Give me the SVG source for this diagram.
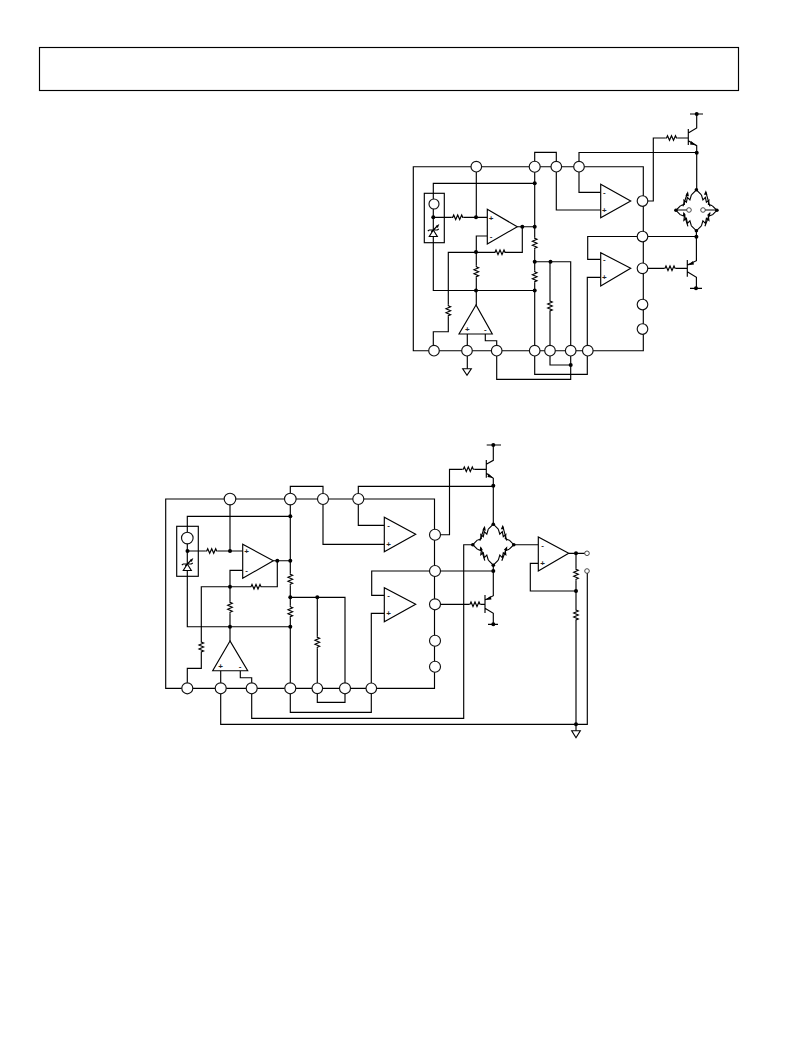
<svg xmlns="http://www.w3.org/2000/svg" xmlns:xlink="http://www.w3.org/1999/xlink" width="802" height="1038" viewBox="0 0 802 1038">
<style>
.w{fill:none;stroke:#000;stroke-width:1.15}
.b{fill:#fff;stroke:#000;stroke-width:1.15}
.pin{fill:#fff;stroke:#111;stroke-width:1.15}
.sp{fill:#fff;stroke:#333;stroke-width:.9}
.d{fill:#000;stroke:none}
text{font-family:"Liberation Sans",Arial,sans-serif;font-size:8px;font-weight:bold;fill:#222;text-anchor:middle}
</style>
<defs>
<g id="rh"><rect x="-6" y="-3" width="12" height="6" fill="#fff"/><path class="w" d="M-6 0H-5L-4 -2.300L-2 2.300L0 -2.300L2 2.300L4 -2.300L5 0H6"/></g>
<g id="rv"><use xlink:href="#rh" transform="rotate(90)"/></g>
<g id="bridge">
<path class="w" d="M0 -20.500L-5 -15.500M-16 -4.500L-20.500 0L-16 4.500M-5 15.500L0 20.500L5 15.500M16 4.500L20.500 0L16 -4.500M5 -15.500L0 -20.500"/>
<path class="w" d="M-5 -15.500L-6.500 -10.500L-9 -13L-10 -8L-12.500 -10L-12 -6L-16 -4.500"/>
<path class="w" d="M5 -15.500L6.500 -10.500L9 -13L10 -8L12.500 -10L12 -6L16 -4.500"/>
<path class="w" d="M-16 4.500L-12 6L-12.500 10L-10 8L-9 13L-6.500 10.500L-5 15.500"/>
<path class="w" d="M16 4.500L12 6L12.500 10L10 8L9 13L6.500 10.500L5 15.500"/>
<path class="w" d="M-13.500 -4L-9 -17M-8.500 16L-12.500 3M8.500 16L13.500 3M13.500 -4L9.500 -18"/>
<path class="d" d="M-8.500 -19L-11 -14.500L-7.500 -14ZM9.500 -20L7.500 -15.500L11 -15.500ZM-13 1.500L-13.500 6L-10.500 5ZM14 1.500L10.500 5L13.500 6Z"/>
<circle class="d" cx="0" cy="-20.500" r="1.800"/><circle class="d" cx="-20.500" cy="0" r="1.800"/><circle class="d" cx="20.500" cy="0" r="1.800"/><circle class="d" cx="0" cy="20.500" r="1.800"/>
</g>
<g id="zener"><path class="b" d="M-4 4.500H4L0 -2Z"/><path class="w" d="M-5.500 -1L-4 -2H4L5.500 -3M-2 0L4 -6"/><path class="d" d="M6 -8L2.500 -6L4.500 -4Z"/></g>
<g id="dot"><circle class="d" r="2"/></g>
</defs>
<rect width="802" height="1038" fill="#fff"/>
<rect class="w" x="39.500" y="47.500" width="699" height="43"/>

<g id="connectors">
<path class="w" d="M413.300 166.700H643.300V350.700H413.300ZM534.700 166.700V152.300H556.300V166.700M579 166.700V152.500H696.700M556.300 166.700V210H600.700M579 166.700V192.300H600.700"/>
<path class="w" d="M642.300 201H653.300V138H688.300M688.300 129V145M688.300 133L696.700 128V114M690 114H703M688.300 140.700L696.700 145.700V190"/>
<path class="w" d="M534.700 166.700V350.700M534.700 183.300H433.300V290.500H534.700M433.300 217.300H487.300M476.300 166.700V217.300M517.300 226.700H534.700M522.300 226.700V252.300H448.300V331.700H433.300V350.700M487.300 236H476.300V305"/>
<path class="w" d="M534.700 261.700H570.700V379.300H496.700V350.700M550 261.700V365H570.700M534.700 350.700V374.300H587.300V350.700M587.300 350.700V277.300H600.700M600.700 259.300H587.700V236.500H696.400M696.400 231V260.700L687.300 265M687.300 260V276.700M687.300 271.700L696.400 277.300V288.300M690 288.300H702M642.300 268.300H687.300"/>
<path class="w" d="M467.300 334V368.700M485.300 334V340.700H496.700V350.700"/>
<path class="w" d="M675.700 210H689M716.700 210H703"/>
<path class="w" d="M165.700 499H434.500V688.300H165.700ZM290.300 499V486.300H323V499M358.300 499V486.300H493.300M323 499V544.300H384.300M358.300 499V525.300H384.300"/>
<path class="w" d="M435 534.700H449.500V469.300H486.300M486.300 460V477.700M486.300 464.300L493.300 460.300V445M486.700 445H501M486.300 473.300L493.300 478.300V524"/>
<path class="w" d="M290.300 499V688.300M290.300 516.300H187.300V626.700H290.300M187.300 551H242.700M230 499V551M273.300 560.700H290.300M277.300 560.700V586.700H201.300V668.300H187.300V688.300M242.700 570.300H230V641"/>
<path class="w" d="M290.300 597.300H345V688.300M317.300 597.300V688.300V702.300H345V688.300M290.300 688.300V712.300H371.300V688.300M371.300 688.300V613.300H384.300M384.300 595.300H371.700V571H493.300M493.300 566V595.700L485 600M485 595V613M485 608.300L493.300 613.300V624.300M488 624.300H498M435 604.300H485"/>
<path class="w" d="M220.700 670.700V724.300H587.300V571M240.300 670.700V677.700H251.700V718.300H463.700V544.700H473M514.300 544.700H538.300M568.700 553.300H587M576 553.300V724.300M538.300 563.300H530.300V591H576M576 724.300V730.700"/>
<path class="d" d="M696 145.300L691 141L690 144.500ZM688 265.200L693 261L694 264.500ZM493 478L488.500 473.500L487.500 477ZM485.500 600L490.500 596L491.500 599.500Z"/>
</g>

<g id="resistors">
<use xlink:href="#rh" x="671.500" y="138"/><use xlink:href="#rh" x="457.700" y="217.300"/><use xlink:href="#rh" x="500" y="252.300"/><use xlink:href="#rh" x="670" y="268.300"/>
<use xlink:href="#rv" x="534.700" y="243.300"/><use xlink:href="#rv" x="534.700" y="276.700"/><use xlink:href="#rv" x="476.300" y="271.700"/><use xlink:href="#rv" x="448.300" y="310.700"/><use xlink:href="#rv" x="550" y="306"/>
<use xlink:href="#rh" x="468.300" y="469.300"/><use xlink:href="#rh" x="211.700" y="551"/><use xlink:href="#rh" x="256" y="586.700"/><use xlink:href="#rh" x="475" y="604.300"/>
<use xlink:href="#rv" x="290.300" y="579.300"/><use xlink:href="#rv" x="290.300" y="611.700"/><use xlink:href="#rv" x="230" y="607.300"/><use xlink:href="#rv" x="201.300" y="647"/><use xlink:href="#rv" x="317.300" y="642.300"/><use xlink:href="#rv" x="576" y="574.300"/><use xlink:href="#rv" x="576" y="615"/>
</g>

<g id="u-ref"><rect class="w" x="424.300" y="193.300" width="20" height="49.400"/><circle class="pin" cx="434" cy="204" r="5"/><use xlink:href="#zener" x="433.300" y="232"/></g>
<g id="u-amp1"><path class="b" d="M487.300 209.300V244L517.300 226.700Z"/><text x="491" y="220.500">+</text><text x="491" y="239">-</text></g>
<g id="u-amp2"><path class="b" d="M600.700 184.300V217.700L630.700 201Z"/><text x="604.300" y="195">-</text><text x="604.300" y="213">+</text></g>
<g id="u-amp3"><path class="b" d="M600.700 252.700V286L630.700 268.300Z"/><text x="604.300" y="262">-</text><text x="604.300" y="280">+</text></g>
<g id="u-amp4"><path class="b" d="M476 305L459 334H492.300Z"/><text x="467.300" y="332">+</text><text x="485.300" y="332">-</text></g>
<g id="u-bridge"><use xlink:href="#bridge" x="696.400" y="210.300"/><circle class="sp" cx="689" cy="210" r="2.300"/><circle class="sp" cx="703" cy="210" r="2.300"/></g>
<g id="u-gnd"><path class="w" d="M462.700 368.700H471.300L467 375.300Z"/></g>
<g id="u-dots">
<use xlink:href="#dot" x="696.700" y="114"/><use xlink:href="#dot" x="696.700" y="152.700"/><use xlink:href="#dot" x="696.400" y="236.700"/><use xlink:href="#dot" x="696" y="288.300"/>
<use xlink:href="#dot" x="534.700" y="183.300"/><use xlink:href="#dot" x="433.300" y="217.300"/><use xlink:href="#dot" x="476" y="217.300"/><use xlink:href="#dot" x="522.300" y="226.700"/><use xlink:href="#dot" x="534.700" y="226.700"/><use xlink:href="#dot" x="476" y="252"/><use xlink:href="#dot" x="534.700" y="261.700"/><use xlink:href="#dot" x="550.500" y="261.700"/><use xlink:href="#dot" x="476" y="290.500"/><use xlink:href="#dot" x="534.700" y="290.500"/><use xlink:href="#dot" x="570.700" y="365"/>
</g>
<g id="u-pin1"><circle class="pin" cx="476.300" cy="166.700" r="5.300"/></g>
<g id="u-pin2"><circle class="pin" cx="534.700" cy="166.700" r="5.500"/></g>
<g id="u-pin3"><circle class="pin" cx="556.300" cy="166.700" r="5.300"/></g>
<g id="u-pin4"><circle class="pin" cx="579" cy="166.700" r="5.300"/></g>
<g id="u-pin5"><circle class="pin" cx="642.500" cy="201" r="5.300"/></g>
<g id="u-pin6"><circle class="pin" cx="642.500" cy="236.500" r="5.300"/></g>
<g id="u-pin7"><circle class="pin" cx="642.500" cy="268.300" r="5.300"/></g>
<g id="u-pin8"><circle class="pin" cx="642.500" cy="304.500" r="5.300"/></g>
<g id="u-pin9"><circle class="pin" cx="642.500" cy="329" r="5.300"/></g>
<g id="u-pin10"><circle class="pin" cx="434" cy="350.700" r="5.300"/></g>
<g id="u-pin11"><circle class="pin" cx="467" cy="350.700" r="5.300"/></g>
<g id="u-pin12"><circle class="pin" cx="496.700" cy="350.700" r="5.300"/></g>
<g id="u-pin13"><circle class="pin" cx="534.700" cy="350.700" r="5.300"/></g>
<g id="u-pin14"><circle class="pin" cx="550" cy="350.700" r="5.300"/></g>
<g id="u-pin15"><circle class="pin" cx="570.700" cy="350.700" r="5.300"/></g>
<g id="u-pin16"><circle class="pin" cx="587.800" cy="350.700" r="5.300"/></g>

<g id="l-ref"><rect class="w" x="176.700" y="526.300" width="21.600" height="50"/><circle class="pin" cx="187.300" cy="538" r="5.800"/><use xlink:href="#zener" x="187.300" y="566"/></g>
<g id="l-amp1"><path class="b" d="M242.700 544.300V578.300L273.300 560.700Z"/><text x="246.500" y="554">+</text><text x="246.500" y="573">-</text></g>
<g id="l-amp2"><path class="b" d="M384.300 517.300V551.700L415.700 534.300Z"/><text x="388.500" y="528">-</text><text x="388.500" y="547">+</text></g>
<g id="l-amp3"><path class="b" d="M384.300 587.700V621.700L415.700 604.300Z"/><text x="388.500" y="598">-</text><text x="388.500" y="616">+</text></g>
<g id="l-amp4"><path class="b" d="M230 641L212.700 670.700H247.700Z"/><text x="220.700" y="669">+</text><text x="240" y="669">-</text></g>
<g id="l-amp5"><path class="b" d="M538.300 537V571L568.700 553.300Z"/><text x="542.500" y="547.500">-</text><text x="542.500" y="566">+</text></g>
<g id="l-bridge"><use xlink:href="#bridge" x="493.300" y="544.700"/></g>
<g id="l-gnd"><path class="w" d="M571.700 730.700H580.300L576 737.700Z"/></g>
<g id="l-dots">
<use xlink:href="#dot" x="493.300" y="445"/><use xlink:href="#dot" x="493.300" y="485.700"/><use xlink:href="#dot" x="493.300" y="571"/><use xlink:href="#dot" x="493.300" y="624.300"/>
<use xlink:href="#dot" x="290.300" y="516.300"/><use xlink:href="#dot" x="187.500" y="551"/><use xlink:href="#dot" x="230" y="551"/><use xlink:href="#dot" x="277.300" y="560.700"/><use xlink:href="#dot" x="290.300" y="560.700"/><use xlink:href="#dot" x="230" y="586.700"/><use xlink:href="#dot" x="290.300" y="597.300"/><use xlink:href="#dot" x="317.300" y="597.300"/><use xlink:href="#dot" x="230" y="626.700"/><use xlink:href="#dot" x="290.300" y="626.700"/><use xlink:href="#dot" x="576" y="553.300"/><use xlink:href="#dot" x="576" y="591"/><use xlink:href="#dot" x="576" y="724.300"/>
</g>
<g id="l-pin1"><circle class="pin" cx="230" cy="499" r="5.800"/></g>
<g id="l-pin2"><circle class="pin" cx="290.300" cy="499" r="5.800"/></g>
<g id="l-pin3"><circle class="pin" cx="323" cy="499" r="5.500"/></g>
<g id="l-pin4"><circle class="pin" cx="358.300" cy="499" r="5.500"/></g>
<g id="l-pin5"><circle class="pin" cx="435" cy="534.700" r="5.500"/></g>
<g id="l-pin6"><circle class="pin" cx="435" cy="571" r="5.500"/></g>
<g id="l-pin7"><circle class="pin" cx="435" cy="604.300" r="5.500"/></g>
<g id="l-pin8"><circle class="pin" cx="435" cy="640.700" r="5.500"/></g>
<g id="l-pin9"><circle class="pin" cx="435" cy="666.700" r="5.500"/></g>
<g id="l-pin10"><circle class="pin" cx="187.300" cy="688.300" r="5.500"/></g>
<g id="l-pin11"><circle class="pin" cx="220.700" cy="688.300" r="5.500"/></g>
<g id="l-pin12"><circle class="pin" cx="251.700" cy="688.300" r="5.500"/></g>
<g id="l-pin13"><circle class="pin" cx="290.300" cy="688.300" r="5.500"/></g>
<g id="l-pin14"><circle class="pin" cx="317.300" cy="688.300" r="5.300"/></g>
<g id="l-pin15"><circle class="pin" cx="345" cy="688.300" r="5.500"/></g>
<g id="l-pin16"><circle class="pin" cx="371.300" cy="688.300" r="5.300"/></g>
<g id="l-out1"><circle class="sp" cx="587" cy="553.300" r="2.300"/></g>
<g id="l-out2"><circle class="sp" cx="587" cy="571" r="2.300"/></g>
</svg>
